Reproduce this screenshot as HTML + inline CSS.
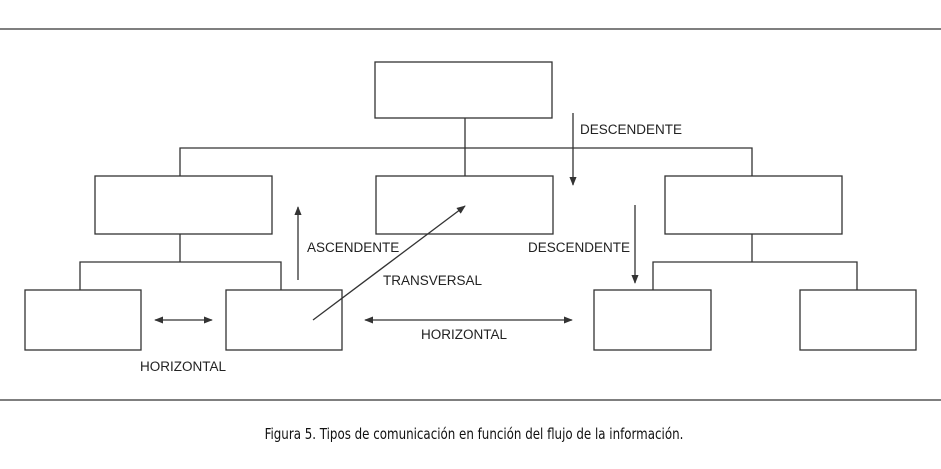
<!DOCTYPE html>
<html><head><meta charset="utf-8"><style>
body{margin:0;background:#fff;width:941px;height:464px;overflow:hidden}
text{font-family:"Liberation Sans",sans-serif;font-size:13.5px;fill:#222}
</style></head><body>
<svg width="941" height="464" viewBox="0 0 941 464" xmlns="http://www.w3.org/2000/svg">
<defs>
<marker id="a" viewBox="0 0 10 10" refX="9" refY="5" markerWidth="9" markerHeight="9" orient="auto-start-reverse" markerUnits="userSpaceOnUse"><path d="M0,1 L10,5 L0,9 z" fill="#333"/></marker>
</defs>
<g stroke="#333" stroke-width="1.3" fill="none">
<line x1="0" y1="29" x2="941" y2="29"/>
<line x1="0" y1="400" x2="941" y2="400"/>
<rect x="375" y="62" width="177" height="56"/>
<rect x="95" y="176" width="177" height="58"/>
<rect x="376" y="176" width="177" height="58"/>
<rect x="665" y="176" width="177" height="58"/>
<rect x="25" y="290" width="116" height="60"/>
<rect x="226" y="290" width="116" height="60"/>
<rect x="594" y="290" width="117" height="60"/>
<rect x="800" y="290" width="116" height="60"/>
<polyline points="180,176 180,148 752,148 752,176"/>
<line x1="465" y1="118" x2="465" y2="176"/>
<polyline points="80,290 80,262 281,262 281,290"/>
<line x1="180" y1="234" x2="180" y2="262"/>
<polyline points="653,290 653,262 857,262 857,290"/>
<line x1="752" y1="234" x2="752" y2="262"/>
<line x1="573" y1="113" x2="573" y2="185" marker-end="url(#a)"/>
<line x1="298" y1="280" x2="298" y2="207" marker-end="url(#a)"/>
<line x1="313" y1="320" x2="465" y2="206" marker-end="url(#a)"/>
<line x1="635" y1="205" x2="635" y2="283" marker-end="url(#a)"/>
<line x1="155" y1="320" x2="212" y2="320" marker-start="url(#a)" marker-end="url(#a)"/>
<line x1="365" y1="320" x2="572" y2="320" marker-start="url(#a)" marker-end="url(#a)"/>
</g>
<text x="580" y="134">DESCENDENTE</text>
<text x="307" y="252">ASCENDENTE</text>
<text x="528" y="252">DESCENDENTE</text>
<text x="383" y="285">TRANSVERSAL</text>
<text x="421" y="339">HORIZONTAL</text>
<text x="140" y="371">HORIZONTAL</text>
<text x="474" y="439" text-anchor="middle" style="font-family:'DejaVu Sans Condensed','Liberation Sans Narrow','Liberation Sans',sans-serif;font-size:15px;fill:#111" transform="translate(474 0) scale(0.88 1) translate(-474 0)">Figura 5. Tipos de comunicación en función del flujo de la información.</text>
</svg>
</body></html>
